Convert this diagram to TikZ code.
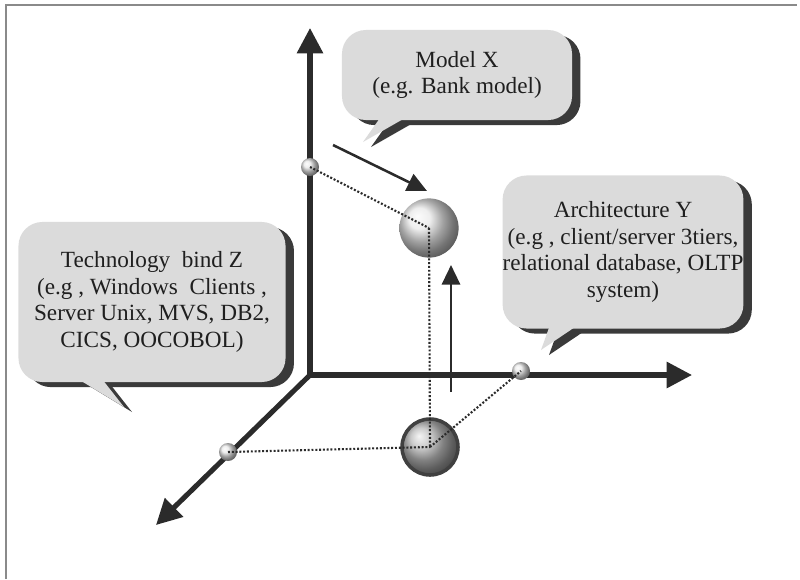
\documentclass[tikz,border=0pt]{standalone}
\usepackage{fontspec}
\setmainfont{Liberation Serif}
\usetikzlibrary{arrows.meta,shadows}
\definecolor{bubblegray}{HTML}{DBDBDB}
\definecolor{shadowgray}{HTML}{3A3A3A}
\definecolor{axisgray}{HTML}{2B2B2B}
\definecolor{framegray}{HTML}{8A8A8A}

\begin{document}
\begin{tikzpicture}[x=0.025cm,y=-0.025cm,>={Triangle[length=18pt,width=18pt]},
    axis/.style={line width=3.6pt,draw=axisgray},
    move/.style={line width=1.8pt,draw=axisgray,-{Triangle[length=14pt,width=13pt]}},
    guide/.style={draw=axisgray,line width=1.5pt,dash pattern=on 1.4pt off 1.3pt},
    bubble node/.style={fill=bubblegray,rounded corners=17pt,align=center,inner sep=0pt,
        font=\fontsize{16.5}{19}\selectfont,text=black!88,
        general shadow={fill=shadowgray,shadow xshift=6pt,shadow yshift=-3.6pt}},
    small ball/.style={circle,minimum size=0.45cm,inner sep=0pt,shading=ball,ball color=gray!18},
    big ball/.style={circle,minimum size=1.48cm,inner sep=0pt,shading=ball,ball color=gray!18}]
    \useasboundingbox (0,0) rectangle (800,579);

    % frame
    \draw[framegray,line width=1.4pt] (6,579) -- (6,5) -- (797,5);

    % callouts
    \node[bubble node,minimum width=5.75cm,minimum height=2.25cm] (model) at (457,75)
        {Model X\\(e.g. Bank model)};
    \fill[shadowgray] (388,123) -- (413,123) -- (371,147) -- cycle;
    \fill[bubblegray] (380,118) -- (405,118) -- (363,142) -- cycle;

    \node[bubble node,minimum width=5.75cm,minimum height=3.825cm] (arch) at (623,252)
        {Architecture Y\\(e.g , client/server 3tiers,\\relational database, OLTP\\system)};
    \fill[shadowgray] (558,330) -- (586,330) -- (549,355) -- cycle;
    \fill[bubblegray] (550,325) -- (578,325) -- (541,350) -- cycle;

    \node[bubble node,minimum width=6.675cm,minimum height=4cm] (tech) at (152,302)
        {Technology\ \ bind Z\\(e.g , Windows\ \ Clients ,\\Server Unix, MVS, DB2,\\CICS, OOCOBOL)};
    \fill[shadowgray] (86,384) -- (110,384) -- (132,412) -- cycle;
    \fill[bubblegray] (78,379) -- (102,379) -- (124,407) -- cycle;

    % axes
    \coordinate (o) at (310,375);
    \coordinate (zt) at (310,28);
    \coordinate (yt) at (692,375);
    \coordinate (xt) at (156,525);
    \draw[axis,<->] (zt) -- (o) -- (yt);
    \draw[axis,->] (o) -- (xt);

    % points
    \node[small ball] (zb) at (310,167) {};
    \node[small ball] (yb) at (521,371) {};
    \node[small ball] (xb) at (228,452) {};
    \node[big ball] (up) at (429,228) {};
    \node[big ball,ball color=gray!55,draw=black!75,line width=2.5pt,minimum size=1.4cm] (low) at (430,447) {};

    \path[guide]
        (zb.center) edge (up.center)
        (up.center) edge (low.center)
        (xb.center) edge (low.center)
        (low.center) edge (yb.center)
        ;

    % moves
    \coordinate (m1) at (333,145);
    \coordinate (m2) at (427,191);
    \coordinate (m3) at (451,392);
    \coordinate (m4) at (451,265);
    \draw[move] (m1) -- (m2);
    \draw[move] (m3) -- (m4);
\end{tikzpicture}
\end{document}
